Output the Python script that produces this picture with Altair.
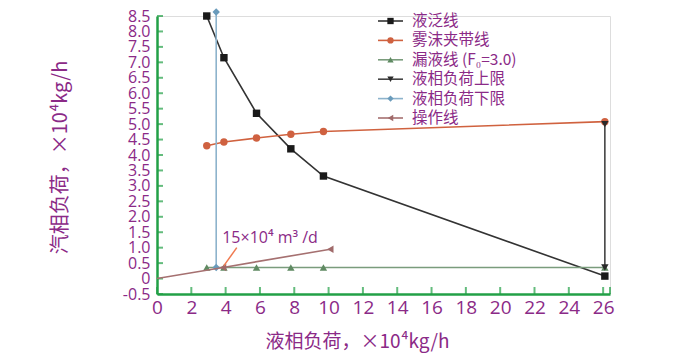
import altair as alt
import pandas as pd

# ---- data ----
flood_x = [2.9, 3.9, 5.8, 7.8, 9.7, 26.1]
flood_y = [8.5, 7.15, 5.35, 4.2, 3.32, 0.08]

entrain_x = [2.9, 3.9, 5.8, 7.8, 9.7, 26.1]
entrain_y = [4.3, 4.42, 4.55, 4.67, 4.76, 5.08]

weep_x = [2.9, 3.9, 5.8, 7.8, 9.7, 26.1]
weep_y = [0.36, 0.36, 0.36, 0.36, 0.36, 0.36]

upper_x = [26.1, 26.1]
upper_y = [0.36, 5.0]

lower_x = [3.45, 3.45]
lower_y = [0.36, 8.63]

oper_x = [0.0, 3.85, 10.1]
oper_y = [0.0, 0.36, 0.95]

names = ["液泛线", "雾沫夹带线", "漏液线 (F₀=3.0)", "液相负荷上限", "液相负荷下限", "操作线"]
colors = ["#1a1a1a", "#cf6140", "#5f8a62", "#2a2a2a", "#6a9bbb", "#a06a6a"]
line_colors = ["#333333", "#d0623f", "#7a9c7c", "#444444", "#8db3cc", "#a57070"]
shapes = ["square", "circle", "triangle-up", "triangle-down", "diamond", "triangle-left"]

x_ticks = [0, 2, 4, 6, 8, 10, 12, 14, 16, 18, 20, 22, 24, 26]
y_ticks = [-0.5, 0, 0.5, 1, 1.5, 2, 2.5, 3, 3.5, 4, 4.5, 5, 5.5, 6, 6.5, 7, 7.5, 8, 8.5]

anno_text = ["15×10⁴ m³ /d"]
anno_x = [3.8]
anno_y = [1.3]
arrow_x = [4.65, 3.9]
arrow_y = [1.0, 0.42]

PURPLE = "#8b2a87"
GREEN = "#22a046"
W, H = 453, 278

series = [
    (flood_x, flood_y), (entrain_x, entrain_y), (weep_x, weep_y),
    (upper_x, upper_y), (lower_x, lower_y), (oper_x, oper_y),
]

xs = alt.Scale(domain=[0, 26.4], nice=False, zero=False)
ys = alt.Scale(domain=[-0.5, 8.5], nice=False, zero=False)

x_axis = alt.Axis(
    values=x_ticks, ticks=False, grid=False, domainColor=GREEN, domainWidth=2.5,
    labelColor=PURPLE, labelFont="Open Sans", labelFontSize=19, labelPadding=4,
    labelOverlap=False, labelFlush=False,
    title="液相负荷，×10⁴kg/h", titleColor=PURPLE, titleFont="Noto Sans CJK SC",
    titleFontSize=19, titleFontWeight="normal", titleX=200, titleY=47,
    titleAnchor="middle", titleBaseline="middle")
y_axis = alt.Axis(
    values=y_ticks, ticks=False, grid=False, domainColor=GREEN, domainWidth=2.5,
    labelColor=PURPLE, labelFont="Open Sans", labelFontSize=16, labelPadding=7,
    labelOverlap=False, labelFlush=False,
    labelExpr="datum.value == 0 ? '0' : (datum.value < 0 ? '-' + format(-datum.value, '.1f') : format(datum.value, '.1f'))",
    title="汽相负荷，×10⁴kg/h", titleColor=PURPLE, titleFont="Noto Sans CJK SC",
    titleFontSize=20, titleFontWeight="normal", titleX=-97, titleY=141,
    titleAngle=270, titleBaseline="middle", titleAlign="center")


def X(f):
    return alt.X(f, scale=xs, axis=x_axis)


def Y(f):
    return alt.Y(f, scale=ys, axis=y_axis)


layers = []

# inward ticks
xt = alt.Chart(pd.DataFrame({"v": x_ticks + [26.4]})).mark_tick(
    orient="vertical", size=7, thickness=2, color=GREEN).encode(
    x=X("v:Q"), y=alt.value(H - 3.5))
yt = alt.Chart(pd.DataFrame({"v": y_ticks})).mark_tick(
    orient="horizontal", size=6, thickness=2, color=GREEN).encode(
    y=Y("v:Q"), x=alt.value(3))
layers += [xt, yt]

for i, (sx, sy) in enumerate(series):
    df = pd.DataFrame({"x": sx, "y": sy, "o": list(range(len(sx)))})
    ln = alt.Chart(df).mark_line(color=line_colors[i], strokeWidth=1.6).encode(
        x=X("x:Q"), y=Y("y:Q"), order="o:Q")
    pdf = df if i != 5 else df[df["x"] > 0]
    pt = alt.Chart(pdf).mark_point(filled=True, shape=shapes[i], size=55,
                                    color=colors[i], opacity=1).encode(
        x=X("x:Q"), y=Y("y:Q"))
    layers += [ln, pt]

# annotation
arr = alt.Chart(pd.DataFrame({"x": arrow_x[:1], "y": arrow_y[:1],
                              "x2": arrow_x[1:], "y2": arrow_y[1:]})).mark_rule(
    color="#f07a50", strokeWidth=1.5).encode(
    x=X("x:Q"), y=Y("y:Q"), x2="x2:Q", y2="y2:Q")
txt = alt.Chart(pd.DataFrame({"x": anno_x, "y": anno_y, "t": anno_text})).mark_text(
    align="left", baseline="middle", font="Open Sans", fontSize=16, color=PURPLE).encode(
    x=X("x:Q"), y=Y("y:Q"), text="t:N")
layers += [arr, txt]

# legend
for i, nm in enumerate(names):
    yy = 5 + i * 19.4
    d = pd.DataFrame({"label": [nm]})
    layers.append(alt.Chart(d).mark_rule(color=line_colors[i], strokeWidth=1.6).encode(
        x=alt.value(221), x2=alt.value(246), y=alt.value(yy)))
    layers.append(alt.Chart(d).mark_point(filled=True, shape=shapes[i], size=40,
                                          color=colors[i], opacity=1).encode(
        x=alt.value(233.5), y=alt.value(yy)))
    layers.append(alt.Chart(d).mark_text(align="left", baseline="middle",
                                         font="Noto Sans CJK SC", fontSize=15.5,
                                         color=PURPLE).encode(
        x=alt.value(255), y=alt.value(yy), text="label:N"))

chart = alt.layer(*layers).properties(
    width=W, height=H,
    autosize=alt.AutoSizeParams(type="none"),
    padding={"left": 149, "top": 8, "right": 66, "bottom": 64},
).configure_view(stroke=None).configure_axis(labelOverlap=False).configure(background="white")

chart.save("out.html", embed_options={"renderer": "svg", "actions": False})
